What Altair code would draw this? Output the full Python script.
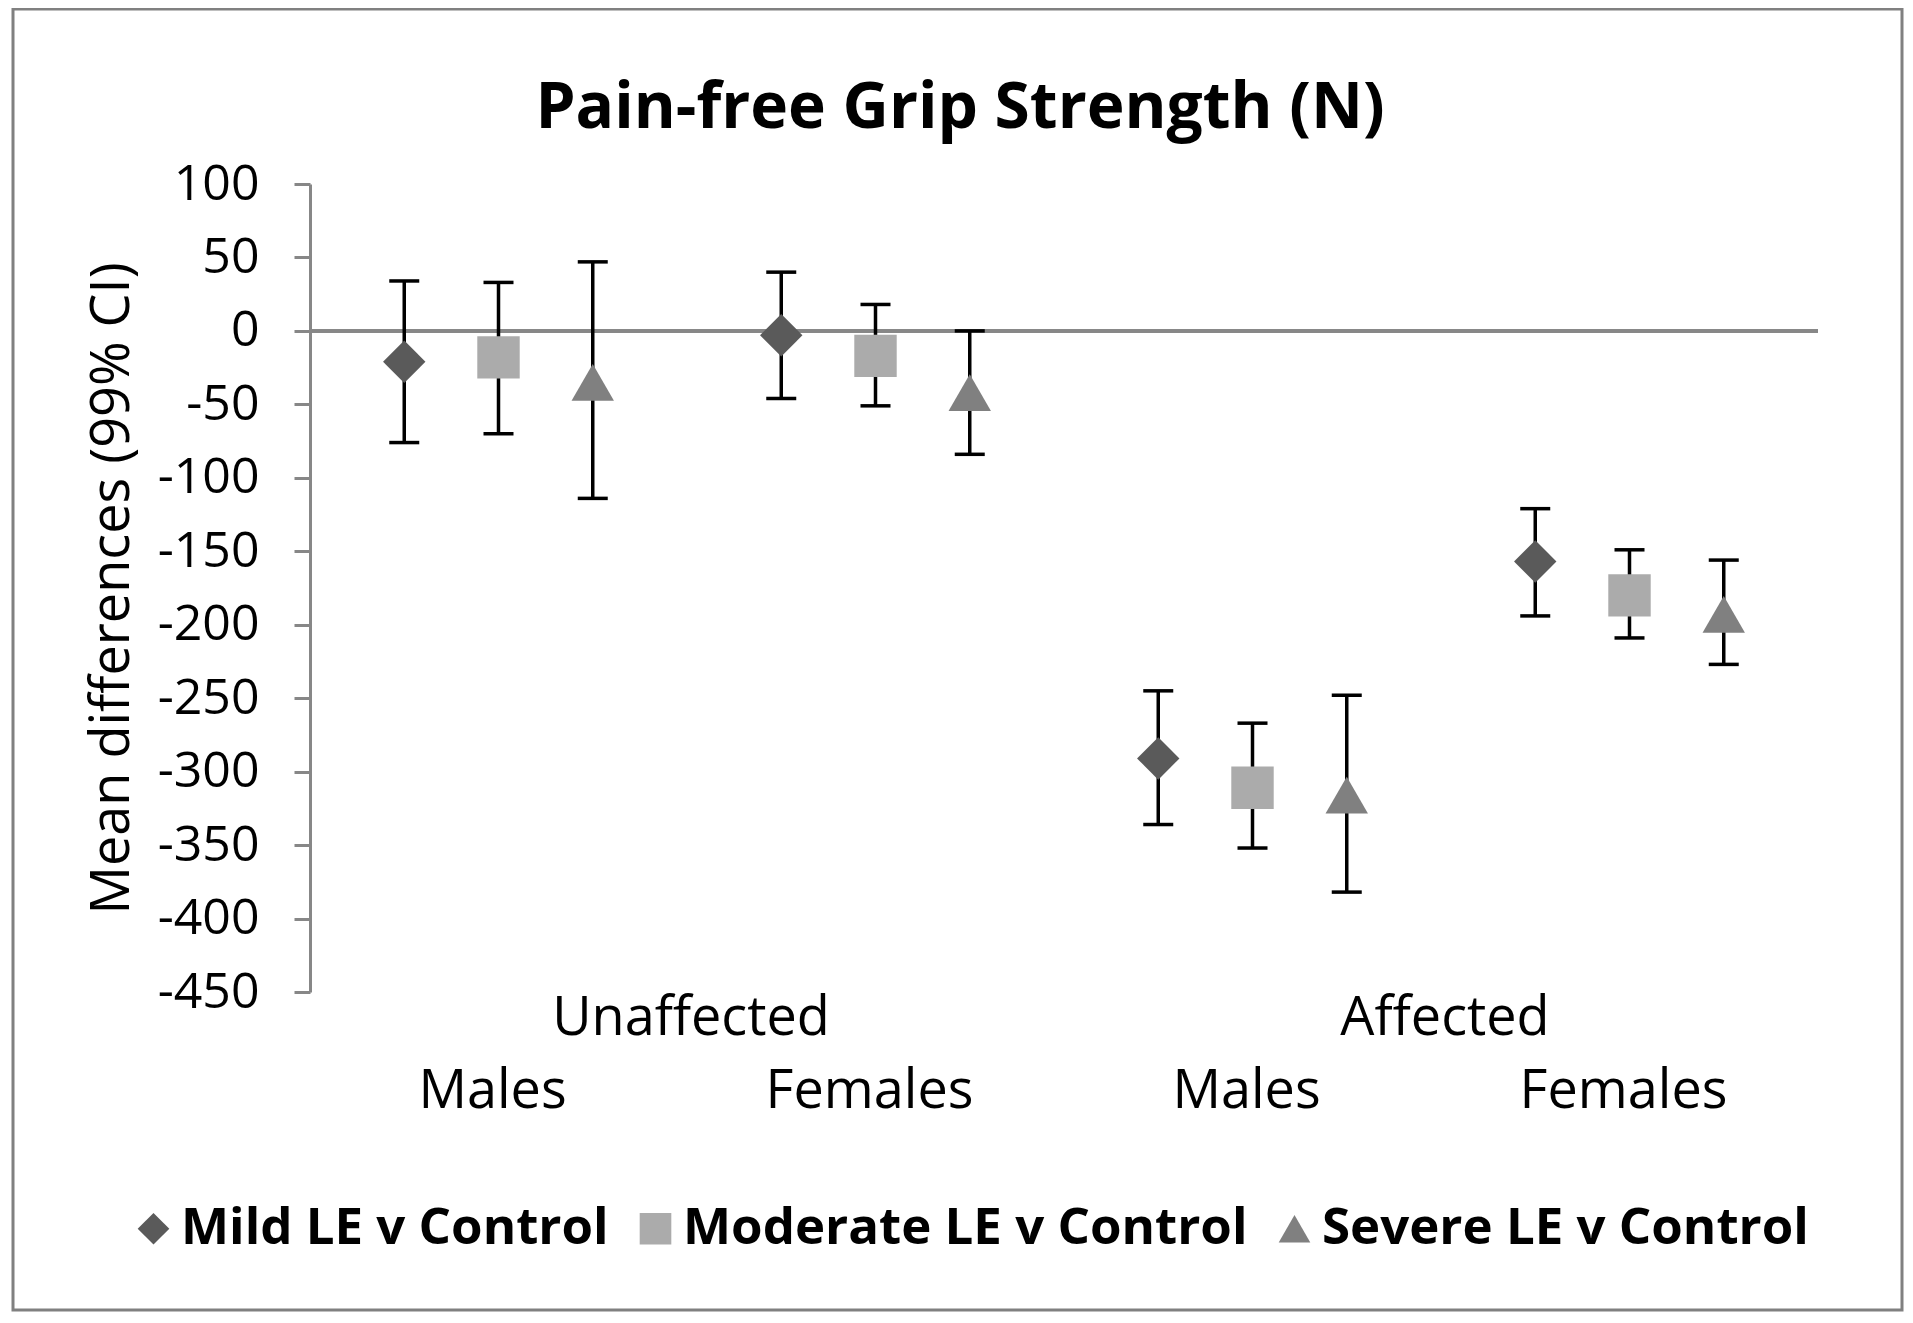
import altair as alt
import pandas as pd

# ---- data ----
groups = ["Unaffected Males", "Unaffected Females", "Affected Males", "Affected Females"]
series = ["Mild LE v Control", "Moderate LE v Control", "Severe LE v Control"]

mild_mean = [-21, -3, -291, -157]
mild_lo = [-76, -46, -336, -194]
mild_hi = [34, 40, -245, -121]

moderate_mean = [-18, -17, -311, -180]
moderate_lo = [-70, -51, -352, -209]
moderate_hi = [33, 18, -267, -149]

severe_mean = [-35, -42, -316, -193]
severe_lo = [-114, -84, -382, -227]
severe_hi = [47, 0, -248, -156]

group_label_anchor = ["Unaffected Females", "Affected Females"]
group_label_text = ["Unaffected", "Affected"]

y_ticks = [100, 50, 0, -50, -100, -150, -200, -250, -300, -350, -400, -450]

title_text = "Pain-free Grip Strength (N)"
y_title = "Mean differences (99% CI)"

# ---- build table ----
rows = []
for s, means, los, his in [
    (series[0], mild_mean, mild_lo, mild_hi),
    (series[1], moderate_mean, moderate_lo, moderate_hi),
    (series[2], severe_mean, severe_lo, severe_hi),
]:
    for g, m, lo, hi in zip(groups, means, los, his):
        rows.append({"group": g, "series": s, "mean": m, "lo": lo, "hi": hi})
df = pd.DataFrame(rows)
labels_df = pd.DataFrame({"group": group_label_anchor, "label": group_label_text})

FONT = "Open Sans"
PW, PH = 1508, 808
PAD_L, PAD_T = 302, 176
TOTAL_W, TOTAL_H = 1897, 1305

x_scale = alt.Scale(domain=groups, paddingInner=0, paddingOuter=0)
xoff_scale = alt.Scale(domain=series, paddingInner=0, paddingOuter=0.5)
y_scale = alt.Scale(domain=[-450, 100], nice=False, zero=False)

x_enc = alt.X(
    "group:N",
    scale=x_scale,
    sort=groups,
    axis=alt.Axis(
        title=None,
        domain=False,
        ticks=False,
        tickSize=0,
        labelAngle=0,
        labelFont=FONT,
        labelFontSize=54,
        labelColor="#000000",
        labelBaseline="alphabetic",
        labelPadding=115,
        labelLimit=0,
        labelOffset=-6,
        labelExpr="split(datum.label, ' ')[1]",
    ),
)
xoff_enc = alt.XOffset("series:N", scale=xoff_scale, sort=series)

base = alt.Chart(df)

zero_rule = alt.Chart(df).mark_rule(color="#878787", strokeWidth=3).encode(
    y=alt.datum(0, scale=y_scale)
)

bars = base.mark_rule(color="#000000", strokeWidth=3.5).encode(
    x=x_enc,
    xOffset=xoff_enc,
    y=alt.Y(
        "lo:Q",
        scale=y_scale,
        axis=alt.Axis(
            title=y_title,
            values=y_ticks,
            grid=False,
            domainColor="#878787",
            domainWidth=3,
            tickColor="#878787",
            tickWidth=3,
            tickSize=16,
            labelPadding=35,
            labelFont=FONT,
            labelFontSize=50,
            labelColor="#000000",
            labelExpr="datum.value < 0 ? '-' + abs(datum.value) : '' + datum.value",
            titleFont=FONT,
            titleFontSize=54,
            titleFontWeight="normal",
            titleColor="#000000",
            titleBaseline="alphabetic",
            titleX=-182,
            titleY=PH / 2,
            titleAngle=-90,
            titleAlign="center",
            titleLimit=0,
        ),
    ),
    y2="hi:Q",
)

caps_lo = base.mark_tick(color="#000000", thickness=3.5, size=30, opacity=1).encode(
    x=x_enc, xOffset=xoff_enc, y=alt.Y("lo:Q", scale=y_scale)
)
caps_hi = base.mark_tick(color="#000000", thickness=3.5, size=30, opacity=1).encode(
    x=x_enc, xOffset=xoff_enc, y=alt.Y("hi:Q", scale=y_scale)
)

legend_cfg = alt.Legend(
    title=None,
    orient="none",
    direction="horizontal",
    legendX=-182,
    legendY=1019,
    labelFont=FONT,
    labelFontSize=51,
    labelFontWeight="bold",
    labelColor="#000000",
    labelLimit=0,
    symbolSize=1000,
    symbolStrokeWidth=0,
    symbolOpacity=1,
    labelOffset=2,
    columnPadding=21,
    padding=0,
)

points = base.mark_point(filled=True, size=1800, opacity=1, strokeWidth=0).encode(
    x=x_enc,
    xOffset=xoff_enc,
    y=alt.Y("mean:Q", scale=y_scale),
    shape=alt.Shape(
        "series:N",
        sort=series,
        scale=alt.Scale(domain=series, range=["diamond", "square", "triangle-up"]),
        legend=legend_cfg,
    ),
    color=alt.Color(
        "series:N",
        sort=series,
        scale=alt.Scale(domain=series, range=["#5a5a5a", "#ababab", "#808080"]),
        legend=legend_cfg,
    ),
)

group_labels = alt.Chart(labels_df).mark_text(
    font=FONT, fontSize=54, color="#000000", baseline="alphabetic", align="center", dx=4
).encode(
    x=alt.X("group:N", scale=x_scale, bandPosition=0),
    y=alt.value(PH + 43),
    text="label:N",
)

title_mark = alt.Chart(labels_df.head(1)).mark_text(
    font=FONT, fontSize=64, fontWeight="bold", color="#000000",
    baseline="alphabetic", align="center",
).encode(
    x=alt.value(952 - PAD_L),
    y=alt.value(120 - PAD_T),
    text=alt.value(title_text),
)

frame = alt.Chart(labels_df.head(1)).mark_rect(
    fillOpacity=0, stroke="#808080", strokeWidth=3
).encode(
    x=alt.value(5 - PAD_L),
    x2=alt.value(TOTAL_W - 3 - PAD_L),
    y=alt.value(1 - PAD_T),
    y2=alt.value(TOTAL_H - 3 - PAD_T),
)

chart = alt.layer(
    frame, zero_rule, bars, caps_lo, caps_hi, points, group_labels, title_mark
).properties(
    width=PW,
    height=PH,
    autosize=alt.AutoSizeParams(type="none"),
    padding={"left": PAD_L, "top": PAD_T, "right": TOTAL_W - PAD_L - PW, "bottom": TOTAL_H - PAD_T - PH},
    background="white",
).configure(font=FONT).configure_view(strokeWidth=0, stroke=None)

chart.save("out.html", embed_options={"renderer": "svg", "actions": False})
